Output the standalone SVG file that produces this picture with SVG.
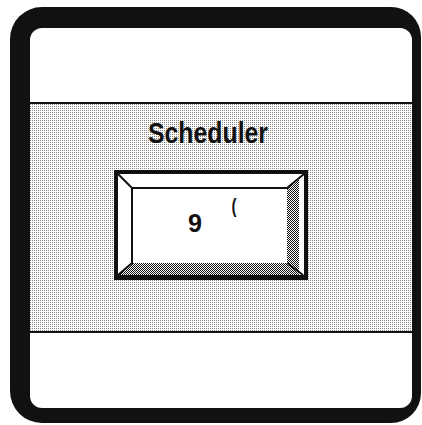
<svg xmlns="http://www.w3.org/2000/svg" width="422" height="425" viewBox="0 0 422 425">
<defs>
<pattern id="lite" width="2" height="2" patternUnits="userSpaceOnUse"><rect width="2" height="2" fill="#fff"/><rect width="1" height="1" fill="#888"/></pattern>
<pattern id="dark" width="2" height="2" patternUnits="userSpaceOnUse"><rect width="2" height="2" fill="#fff"/><rect width="1" height="1" fill="#111"/><rect x="1" y="1" width="1" height="1" fill="#111"/></pattern>
<style>
.lbl{font-family:"Liberation Sans",Arial,sans-serif;font-weight:bold;fill:#111}
.ln{stroke:#111;stroke-width:2;fill:none}
</style>
</defs>
<rect width="422" height="425" fill="#fff"/>
<g id="panel">
<rect x="30" y="103" width="382" height="229" fill="url(#lite)"/>
<line class="ln" x1="30" y1="103" x2="412" y2="103"/>
<line class="ln" x1="30" y1="332" x2="412" y2="332"/>
<path fill="#111" fill-rule="evenodd" d="M42 7 H391 A30 30 0 0 1 421 37 V393 A30 30 0 0 1 391 423 H42 A32 32 0 0 1 10 391 V39 A32 32 0 0 1 42 7 Z M42 28 A12 12 0 0 0 30 40 V396 A12 12 0 0 0 42 408 H400 A12 12 0 0 0 412 396 V40 A12 12 0 0 0 400 28 Z"/>
</g>
<g id="scheduler">
<text class="lbl" x="208" y="143" font-size="30" text-anchor="middle" textLength="120" lengthAdjust="spacingAndGlyphs">Scheduler</text>
</g>
<g id="button">
<rect x="114" y="170" width="194" height="110" fill="#111"/>
<rect x="118" y="174" width="186" height="101" fill="#fff"/>
<polygon points="118,275 132,263 287,263 287,188 299,178 299,275" fill="url(#dark)"/>
<line class="ln" x1="118" y1="174" x2="132" y2="188"/>
<line class="ln" x1="304" y1="174" x2="287" y2="188"/>
<line class="ln" x1="118" y1="275" x2="132" y2="263"/>
<line class="ln" x1="303" y1="275" x2="287" y2="263"/>
<line class="ln" x1="131" y1="188" x2="288" y2="188"/>
<line class="ln" x1="132" y1="187" x2="132" y2="264"/>
<text class="lbl" x="195" y="232" font-size="25" text-anchor="middle" textLength="14" lengthAdjust="spacingAndGlyphs">9</text>
<text class="lbl" x="234" y="213" font-size="20" text-anchor="middle" textLength="5" lengthAdjust="spacingAndGlyphs">(</text>
</g>
</svg>
